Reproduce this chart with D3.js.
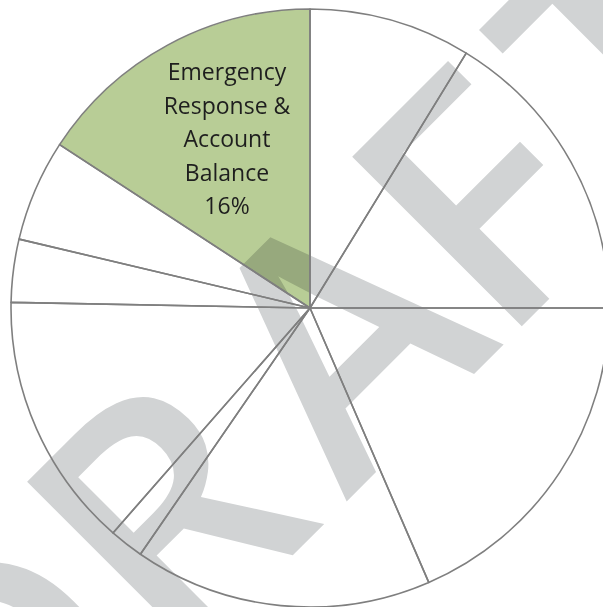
<!DOCTYPE html>
<html>
<head>
<meta charset="utf-8">
<script src="https://cdn.jsdelivr.net/npm/d3@7"></script>
<style>
  body { margin: 0; background: #fff; }
  svg { display: block; }
</style>
</head>
<body>
<div id="chart"></div>
<script>
// slice shares in percent, clockwise from 12 o'clock
var sliceValues = [8.75, 16.25, 18.5, 16.1, 1.85, 13.85, 3.4, 5.5, 15.8];
var sliceColors = ["#fff", "#fff", "#fff", "#fff", "#fff", "#fff", "#fff", "#fff", "#b8cd96"];
var sliceLabels = ["", "", "", "", "", "", "", "", "Emergency|Response &|Account|Balance|16%"];
var watermark = "DRAFT";

var svgWidth = 603;
var svgHeight = 607;
var center = { x: 310, y: 308 };
var radius = 299;

var svg = d3.select("#chart")
  .append("svg")
  .attr("width", svgWidth)
  .attr("height", svgHeight);

var pie = d3.pie().sort(null).value(d => d);
var arc = d3.arc().innerRadius(0).outerRadius(radius);
var arcs = pie(sliceValues);

var pieGroup = svg.append("g")
  .attr("transform", `translate(${center.x}, ${center.y})`);

// fills first
pieGroup.selectAll("path.fill")
  .data(arcs)
  .enter()
  .append("path")
  .attr("class", "fill")
  .attr("d", arc)
  .attr("fill", (d, i) => sliceColors[i]);

// watermark sits between fills and outlines, runs up at 45 degrees
var letterGaps = [0, 0, 29, -6, 27];
var mark = svg.append("text")
  .attr("transform", "translate(0.3, 847.8) rotate(-45)")
  .attr("font-family", "Open Sans")
  .attr("font-weight", 560)
  .attr("font-size", 336)
  .attr("fill", "#d1d3d4")
  .style("mix-blend-mode", "multiply");

watermark.split("").forEach(function(ch, i) {
  mark.append("tspan")
    .attr("dx", letterGaps[i])
    .text(ch);
});

// outlines
var outlineGroup = svg.append("g")
  .attr("transform", `translate(${center.x}, ${center.y})`);

outlineGroup.selectAll("path")
  .data(arcs)
  .enter()
  .append("path")
  .attr("d", arc)
  .attr("fill", "none")
  .attr("stroke", "#7f7f7f")
  .attr("stroke-width", 1.6)
  .attr("stroke-linejoin", "round");

// label for the highlighted slice
var labelGroup = svg.append("g");
sliceLabels.forEach(function(label, i) {
  if (!label) return;
  var lines = label.split("|");
  var t = labelGroup.append("text")
    .attr("text-anchor", "middle")
    .attr("font-family", "Open Sans")
    .attr("font-size", 23)
    .attr("fill", "#1e1e1e");
  lines.forEach(function(line, j) {
    t.append("tspan")
      .attr("x", 227)
      .attr("y", 80 + j * 33.5)
      .text(line);
  });
});
</script>
</body>
</html>
